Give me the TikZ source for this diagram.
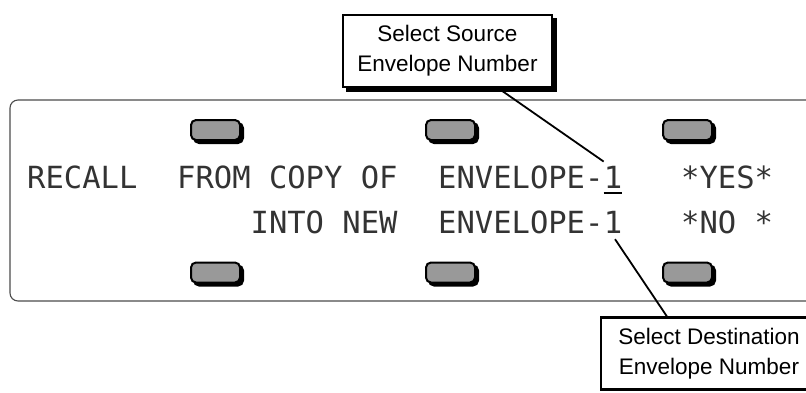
\documentclass[tikz,border=0pt]{standalone}
\usepackage{fontspec}
\setmainfont{Liberation Sans}
\newfontfamily\lcdfont{DejaVu Sans Mono}
\usepackage{tikz}
\usetikzlibrary{positioning,calc}

\begin{document}
\begin{tikzpicture}[x=1pt, y=-1pt,
    lcd/.style={font=\lcdfont\fontsize{30.5}{30.5}\selectfont, text=black!80,
        inner sep=0pt, anchor=base west},
    softkey/.style={draw, line width=2pt, rounded corners=5pt, fill=black!40,
        minimum width=49pt, minimum height=20pt, inner sep=0pt},
    callout/.style={draw, line width=2.2pt, fill=white, align=center,
        font=\fontsize{22.5}{30}\selectfont, minimum height=72pt, inner sep=0pt},
    shadowbox/.style={fill=black, draw=black}]
  \useasboundingbox (0,0) rectangle (806,392);

  % display panel
  \draw[rounded corners=8pt, line width=1.1pt, black!70] (10,100) rectangle (880,301);

  % soft keys above and below the display, each on its own shadow
  \foreach \x [count=\i] in {215.5,450.5,687.5} {
    \node[softkey, shadowbox] (keyupsh\i) at ({\x+3},133) {};
    \node[softkey] (keyup\i) at (\x,130) {};
    \node[softkey, shadowbox] (keydnsh\i) at ({\x+3},275.5) {};
    \node[softkey] (keydn\i) at (\x,272.5) {};
  }

  % display text
  \node[lcd] (recall) at (27,188) {RECALL};
  \node[lcd] (fromcopy) at (177,188) {FROM COPY OF};
  \node[lcd, anchor=base east] (intonew) at ([yshift=-45pt]fromcopy.base east) {INTO NEW};
  \node[lcd] (srcenv) at (438,188) {ENVELOPE-};
  \node[lcd] (srcdig) at (srcenv.base east) {1};
  \node[lcd] (dstenv) at (438,233) {ENVELOPE-};
  \node[lcd] (dstdig) at (dstenv.base east) {1};
  \node[lcd] (yes) at (681,188) {*YES*};
  \node[lcd] (no) at (681,233) {*NO *};
  \draw[line width=1.6pt] ([yshift=-5pt]srcdig.base west) -- ([yshift=-5pt]srcdig.base east);

  % callouts
  \node[callout, shadowbox, minimum width=209pt] (srcsh) at (451.5,55) {};
  \node[callout, minimum width=209pt] (srcbox) at (447.5,51) {Select Source\\Envelope Number};
  \node[callout, minimum width=216pt] (dstbox) at (709,353.5)
      {Select Destination\\Envelope Number};

  \draw[line width=1.8pt] ([xshift=-55pt]srcbox.south east) -- ([yshift=4pt]srcdig.north west);
  \draw[line width=1.8pt] ([shift={(2pt,-6pt)}]dstdig.south) -- ([xshift=67pt]dstbox.north west);
\end{tikzpicture}
\end{document}
